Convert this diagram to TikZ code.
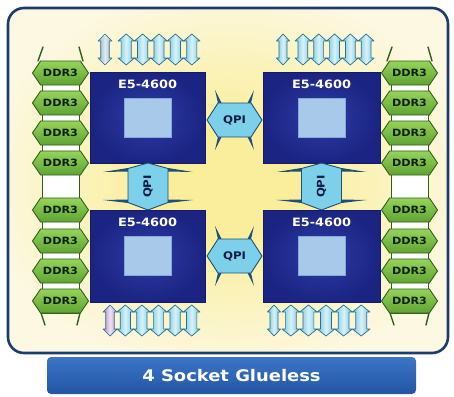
\documentclass[tikz,border=0pt]{standalone}
\usepackage{fontspec}
\setmainfont{DejaVu Sans}[FakeStretch=1.12]
\usetikzlibrary{shapes.symbols}
\definecolor{panelb}{HTML}{1D3B6E}
\definecolor{cream}{HTML}{FCF8E2}
\definecolor{glowY}{HTML}{FAEE9C}
\definecolor{bantop}{HTML}{3B75C6}
\definecolor{banbot}{HTML}{2455A4}
\definecolor{cpuin}{HTML}{2E3CA8}
\definecolor{cpuout}{HTML}{1B2482}
\definecolor{cpuborder}{HTML}{141B5E}
\definecolor{diefill}{HTML}{A9C9EA}
\definecolor{dieline}{HTML}{86A9D6}
\definecolor{ddrlight}{HTML}{96D35A}
\definecolor{ddrmid}{HTML}{5FA332}
\definecolor{ddrdark}{HTML}{2F5F1A}
\definecolor{ddrtext}{HTML}{10200A}
\definecolor{qpifill}{HTML}{7DD0EA}
\definecolor{qpidark}{HTML}{1D4F78}
\definecolor{qpitext}{HTML}{0E1C44}
\definecolor{iob}{HTML}{6CC8E4}
\definecolor{iogray}{HTML}{8FB0C8}
\definecolor{iopurple}{HTML}{B88BC9}
\definecolor{iodark}{HTML}{2A6F8F}
\pgfdeclareradialshading{glow}{\pgfpoint{0bp}{0bp}}{color(0bp)=(glowY); color(8bp)=(glowY); color(28bp)=(cream); color(50bp)=(cream)}
\newcommand\ioarr[4]{\begin{scope}[shift={(#1,#2)}]
\path[draw=iodark,line width=0.7pt,left color=#4,right color=#4,middle color=white!75!#4,line join=round]
 (0,0) -- (#3,7) -- (0.62*#3,7) -- (0.62*#3,24) -- (#3,24) -- (0,31) -- (-#3,24) -- (-0.62*#3,24) -- (-0.62*#3,7) -- (-#3,7) -- cycle;
\end{scope}}
\begin{document}
\begin{tikzpicture}[x=1pt,y=-1pt,
  cpu/.style={rectangle,minimum width=115pt,minimum height=91pt,inner sep=0,inner color=cpuin,outer color=cpuout,draw=cpuborder,line width=0.8pt},
  die/.style={rectangle,minimum width=47pt,minimum height=39pt,inner sep=0,fill=diefill,draw=dieline,line width=0.6pt},
  cpulabel/.style={text=white,font=\bfseries\fontsize{11.5}{12}\selectfont},
  ddr/.style={signal,signal to=east and west,signal pointer angle=112,minimum width=56pt,minimum height=24pt,inner sep=0,draw=ddrdark,line width=0.9pt,top color=ddrlight,bottom color=ddrmid,text=ddrtext,font=\bfseries\fontsize{10}{10}\selectfont},
  qpibody/.style={fill=qpifill,draw=qpidark,line width=0.9pt,line join=round},
  qpitxt/.style={inner sep=0,text=qpitext,font=\bfseries\fontsize{10.5}{11}\selectfont},
  wing/.style={fill=qpidark},
  ddrwing/.style={draw=ddrdark,line width=1.4pt,line cap=round},
  shaft/.style={draw=ddrdark,line width=1pt,fill=white}]
\useasboundingbox (0,0) rectangle (454,396);
\fill[white] (0,0) rectangle (454,396);
% panel
\shadedraw[shading=glow,draw=panelb,line width=2.6pt,rounded corners=16pt] (8,8) rectangle (448,353);
% banner
\shade[top color=bantop,bottom color=banbot,rounded corners=4pt] (47,357) rectangle (416,394);
\node[text=white,font=\bfseries\fontsize{16}{17}\selectfont] (banner) at (231.5,376) {4 Socket Glueless};
% DDR columns
\draw[shaft] (42,61) rectangle (79,313);
\draw[shaft] (391,61) rectangle (428,313);
\draw[ddrwing] (38,61) -- (43,47); \draw[ddrwing] (83,61) -- (79,47);
\draw[ddrwing] (41,313) -- (45,325); \draw[ddrwing] (80,313) -- (77,325);
\draw[ddrwing] (387,61) -- (392,47); \draw[ddrwing] (432,61) -- (428,47);
\draw[ddrwing] (390,313) -- (394,325); \draw[ddrwing] (429,313) -- (426,325);
\foreach \y [count=\i] in {73,103,133,163,210,241,271,301}{
  \node[ddr] (dl\i) at (60.5,\y) {DDR3};
  \node[ddr] (dr\i) at (409.5,\y) {DDR3};
}
% CPUs
\node[cpu] (cpuTL) at (147.5,117.5) {};
\node[cpu,minimum width=117pt] (cpuTR) at (321.5,117.5) {};
\node[cpu,minimum height=92pt] (cpuBL) at (147.5,256) {};
\node[cpu,minimum width=117pt,minimum height=92pt] (cpuBR) at (321.5,256) {};
\foreach \c in {cpuTL,cpuTR,cpuBL,cpuBR}{
  \node[die] (die\c) at (\c) {};
  \node[cpulabel] (lab\c) at ([yshift=-13pt]\c.north) {E5-4600};
}
% QPI links, horizontal
\foreach \cy/\n in {120/qT,256/qB}{
  \fill[wing] (218,\cy-17) -- (221.5,\cy-17) -- (215,\cy-30) -- cycle;
  \fill[wing] (218,\cy+17) -- (221.5,\cy+17) -- (215,\cy+30) -- cycle;
  \fill[wing] (251,\cy-17) -- (247.5,\cy-17) -- (254,\cy-30) -- cycle;
  \fill[wing] (251,\cy+17) -- (247.5,\cy+17) -- (254,\cy+30) -- cycle;
  \path[qpibody] (207,\cy) -- (218,\cy-17) -- (251,\cy-17) -- (262,\cy) -- (251,\cy+17) -- (218,\cy+17) -- cycle;
  \node[qpitxt] (\n) at (234.5,\cy) {QPI};
}
% QPI links, vertical
\foreach \cx/\n in {148/qL,321.5/qR}{
  \fill[wing] (\cx-20,168) -- (\cx-20,171.5) -- (\cx-45,172) -- cycle;
  \fill[wing] (\cx+20,168) -- (\cx+20,171.5) -- (\cx+45,172) -- cycle;
  \fill[wing] (\cx-20,203) -- (\cx-20,199.5) -- (\cx-45,200) -- cycle;
  \fill[wing] (\cx+20,203) -- (\cx+20,199.5) -- (\cx+45,200) -- cycle;
  \path[qpibody] (\cx,163) -- (\cx+20,168.5) -- (\cx+20,202.5) -- (\cx,210) -- (\cx-20,202.5) -- (\cx-20,168.5) -- cycle;
  \node[qpitxt,rotate=90] (\n) at (\cx,186.5) {QPI};
}
% I/O arrows
\ioarr{105}{34}{7}{iogray}
\foreach \x in {126.2,142.6,159,175.4,191.8}{\ioarr{\x}{34}{8.2}{iob}}
\ioarr{283}{34}{6.5}{iob}
\foreach \x in {302.9,318.7,334.5,350.3,366.1}{\ioarr{\x}{34}{7.9}{iob}}
\ioarr{110}{305}{7}{iopurple}
\foreach \x in {125.3,141.9,158.5,175.1,191.7}{\ioarr{\x}{305}{8.3}{iob}}
\ioarr{274}{305}{6.5}{iob}
\foreach \x in {290.8,308.4,326,343.6,361.2}{\ioarr{\x}{305}{8.8}{iob}}
\end{tikzpicture}
\end{document}
